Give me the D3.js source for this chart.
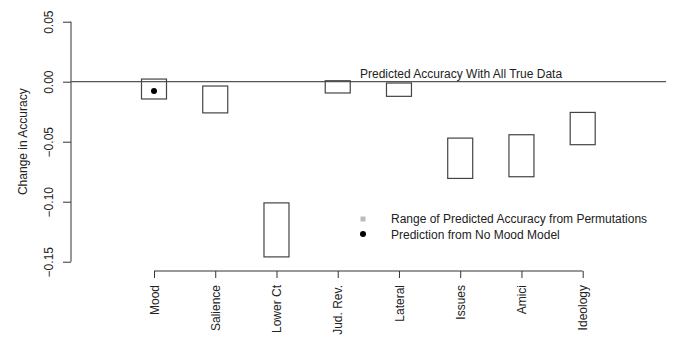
<!DOCTYPE html>
<html><head><meta charset="utf-8">
<script src="https://cdn.jsdelivr.net/npm/d3@7"></script>
<style>body{margin:0;background:#fff}svg{display:block}text{font-family:"Liberation Sans",Arial,sans-serif;fill:#222}</style>
</head><body><svg id="c" width="675" height="355"></svg>
<script>
const categories = ["Mood","Salience","Lower Ct","Jud. Rev.","Lateral","Issues","Amici","Ideology"];
const rangeHigh = [0.0022,-0.0036,-0.101,0.0008,-0.0011,-0.047,-0.0442,-0.0256];
const rangeLow  = [-0.0144,-0.026,-0.146,-0.0094,-0.0122,-0.0806,-0.0792,-0.0525];
const noMoodCat = ["Mood"];
const noMoodVal = [-0.0078];
const yTicks = [0.05,0.00,-0.05,-0.10,-0.15];
const yTickLabels = ["0.05","0.00","\u22120.05","\u22120.10","\u22120.15"];

const svg = d3.select("#c");
const y = d3.scaleLinear().domain([-0.15,0.05]).range([261.7,21.7]);
const x = d3.scalePoint().domain(categories).range([154,582.7]);
const ink = "#333";
const fs = 12;

// y axis
const ya = svg.append("g").attr("transform","translate(71,0)")
  .call(d3.axisLeft(y).tickValues(yTicks).tickSize(8).tickFormat((d,i)=>yTickLabels[i]));
ya.select(".domain").attr("stroke",ink).attr("d",`M0,${y(0.05)}V${y(-0.15)}`);
ya.selectAll(".tick line").attr("stroke",ink);
ya.selectAll(".tick text").attr("transform","rotate(-90)").attr("x",0).attr("y",-18)
  .attr("dy",0).attr("text-anchor","middle").attr("font-size",fs).attr("fill","#222")
  .style("font-family",'"Liberation Sans",Arial,sans-serif');

// x axis
const xa = svg.append("g").attr("transform","translate(0,271)")
  .call(d3.axisBottom(x).tickSize(7).tickSizeOuter(0));
xa.select(".domain").attr("stroke",ink).attr("d",`M${x(categories[0])},0H${x(categories[categories.length-1])}`);
xa.selectAll(".tick line").attr("stroke",ink);
xa.selectAll(".tick text").attr("transform","rotate(-90)").attr("x",-14).attr("y",0)
  .attr("dy","0.35em").attr("text-anchor","end").attr("font-size",fs).attr("fill","#222")
  .style("font-family",'"Liberation Sans",Arial,sans-serif');

// y label
svg.append("text").attr("transform",`translate(27,${y(-0.05)}) rotate(-90)`)
  .attr("text-anchor","middle").attr("font-size",fs).text("Change in Accuracy");

// reference line
svg.append("line").attr("x1",71).attr("x2",666).attr("y1",y(0)).attr("y2",y(0))
  .attr("stroke","#555").attr("stroke-width",1.2);
svg.append("text").attr("x",360).attr("y",y(0)-4).attr("font-size",fs)
  .text("Predicted Accuracy With All True Data");

// boxes
const bw = 25;
svg.append("g").selectAll("rect").data(categories).join("rect")
  .attr("x",d=>x(d)-bw/2).attr("width",bw)
  .attr("y",(d,i)=>y(rangeHigh[i])).attr("height",(d,i)=>y(rangeLow[i])-y(rangeHigh[i]))
  .attr("fill","none").attr("stroke","#444").attr("stroke-width",1.2);

// no mood points
svg.append("g").selectAll("circle").data(noMoodCat).join("circle")
  .attr("cx",d=>x(d)).attr("cy",(d,i)=>y(noMoodVal[i])).attr("r",3).attr("fill","#000");

// legend
const lg = svg.append("g");
lg.append("rect").attr("x",360.5).attr("y",216.5).attr("width",5).attr("height",5).attr("fill","#bbb");
lg.append("circle").attr("cx",363).attr("cy",234).attr("r",3).attr("fill","#000");
lg.append("text").attr("x",391).attr("y",223).attr("font-size",fs).text("Range of Predicted Accuracy from Permutations");
lg.append("text").attr("x",391).attr("y",238.5).attr("font-size",fs).text("Prediction from No Mood Model");
</script></body></html>
